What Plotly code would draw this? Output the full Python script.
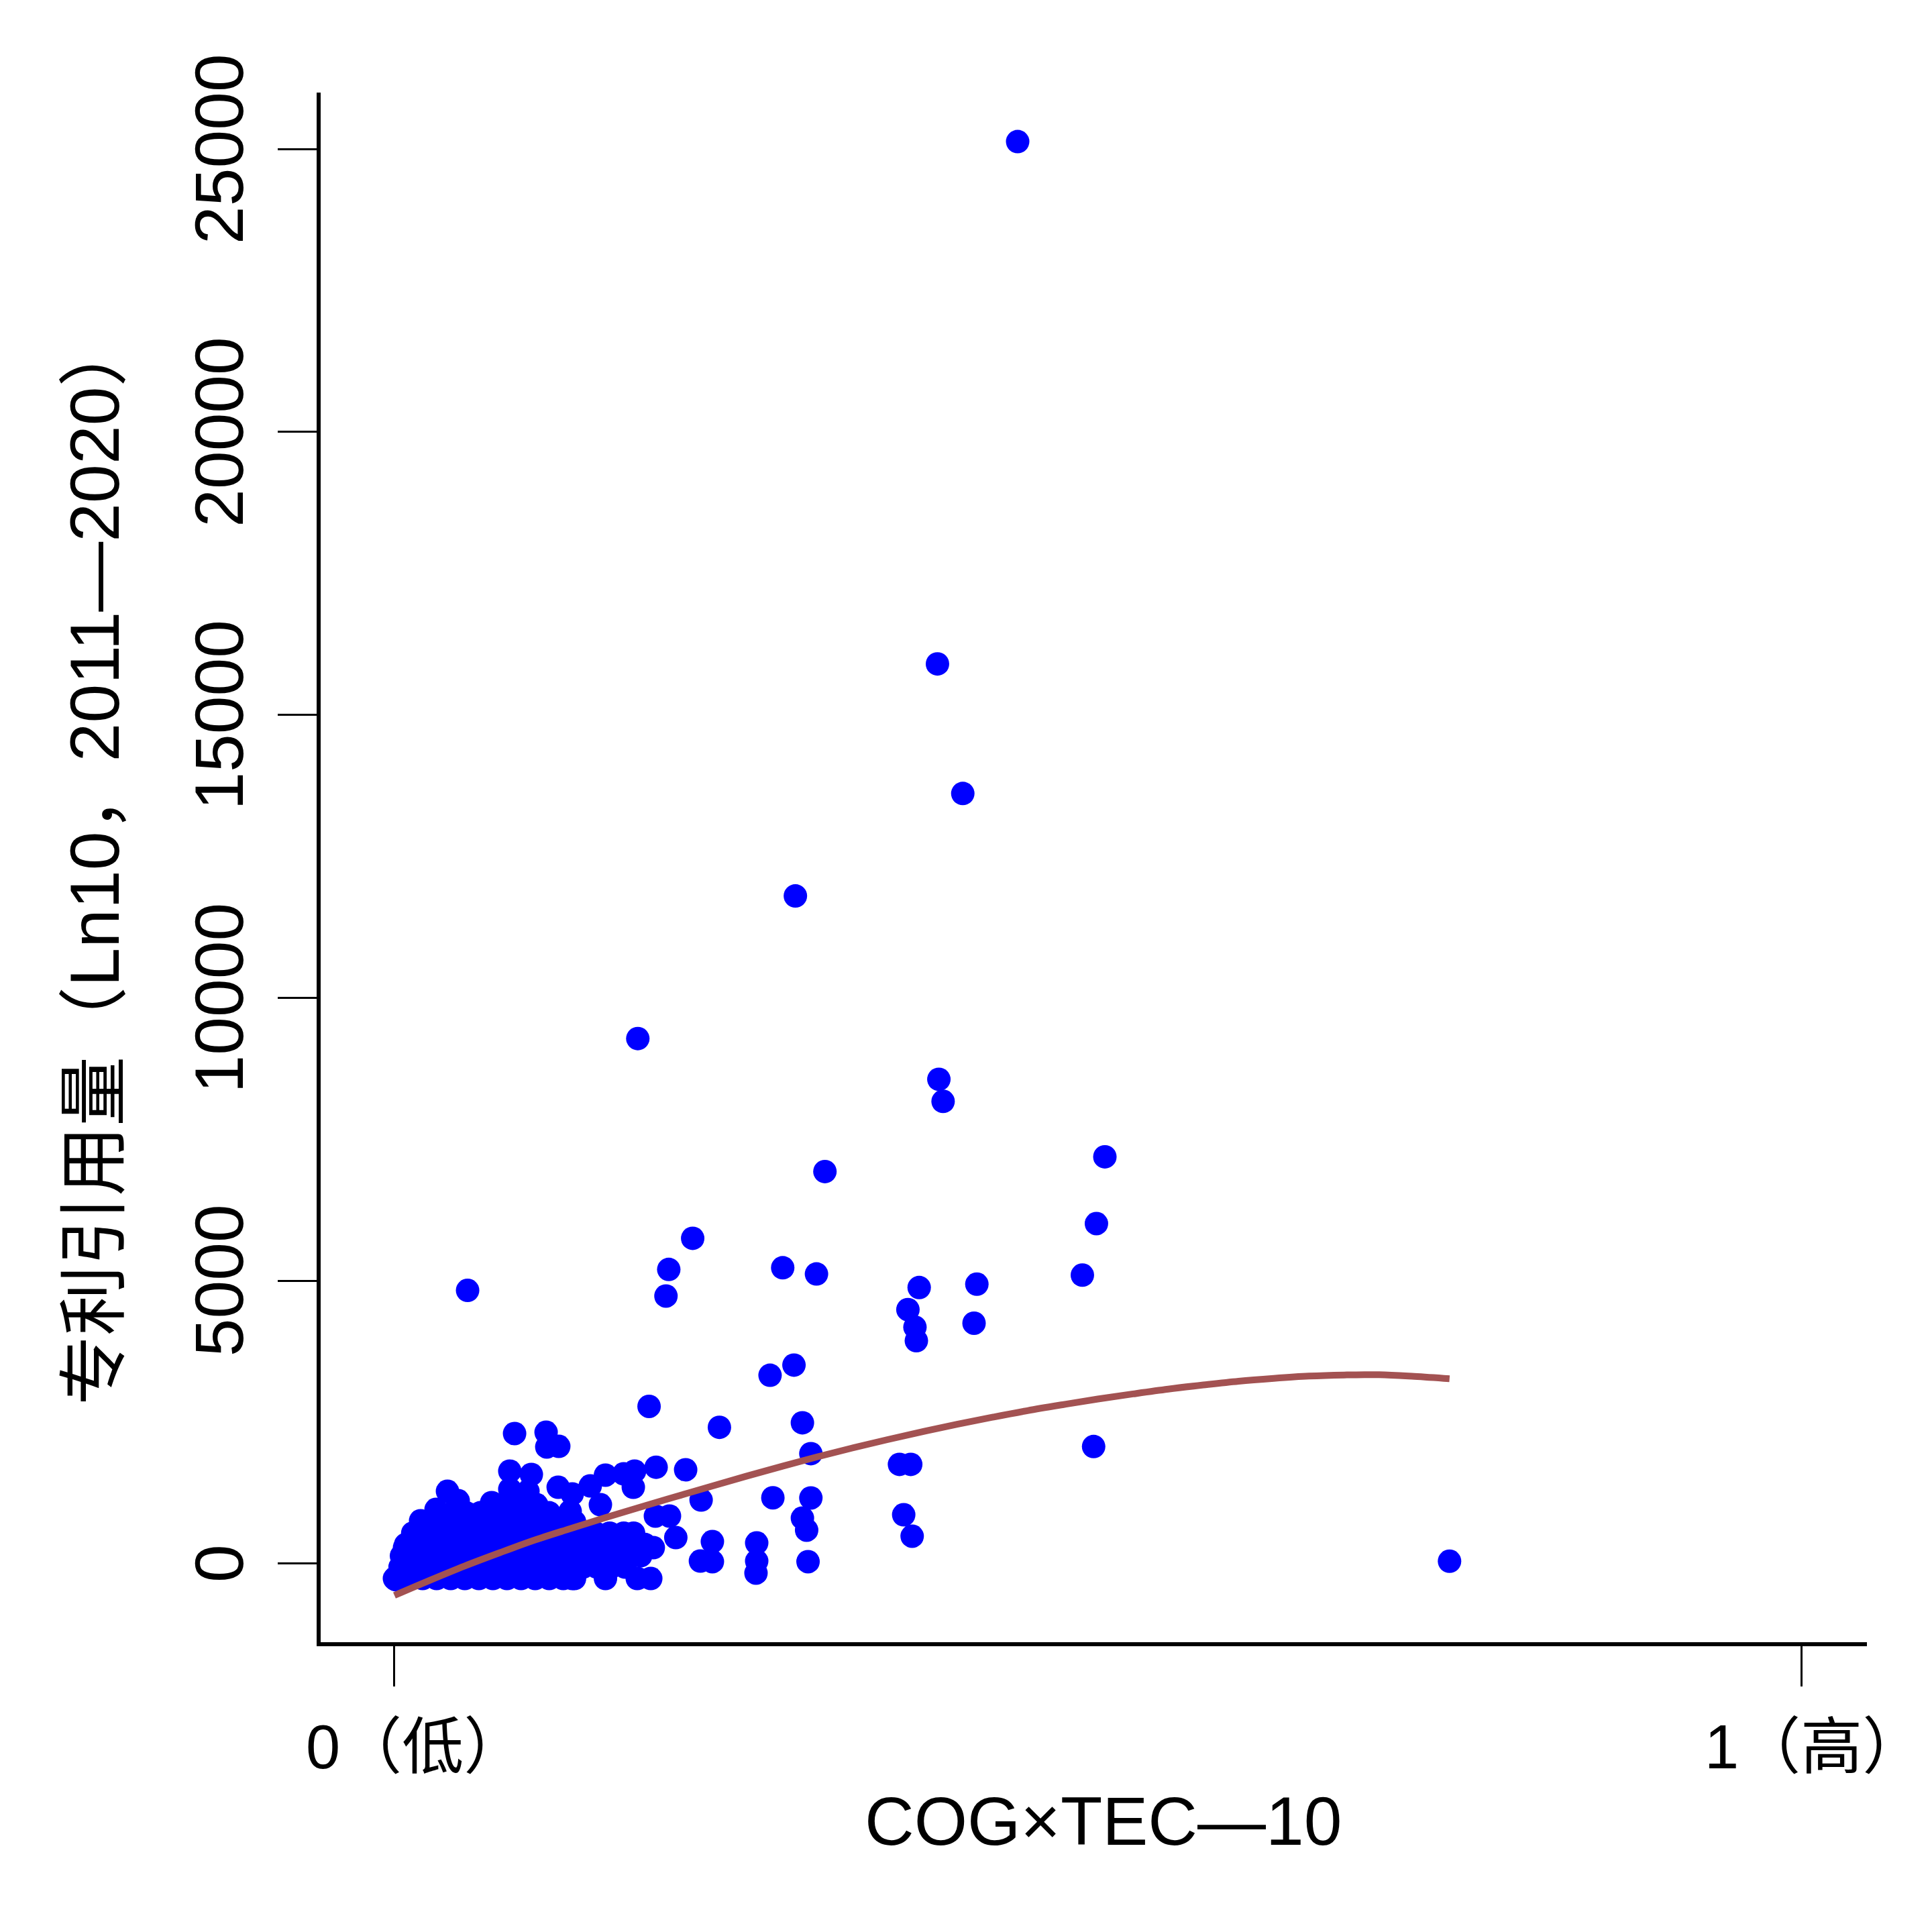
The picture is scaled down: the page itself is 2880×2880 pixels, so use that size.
import plotly.graph_objects as go

# ---------------- data ----------------
# isolated points (COG×TEC—10, 专利引用量)
pts_x = [0.443, 0.386, 0.404, 0.285, 0.173, 0.387, 0.390, 0.505, 0.306, 0.499,
         0.212, 0.195, 0.276, 0.300, 0.052, 0.193, 0.373, 0.414, 0.489, 0.365,
         0.370, 0.371, 0.412, 0.284, 0.267, 0.181, 0.231, 0.290, 0.497, 0.296,
         0.359, 0.367, 0.207, 0.186, 0.269, 0.296, 0.218, 0.362, 0.290, 0.293,
         0.368, 0.750, 0.2575, 0.226, 0.2575, 0.257, 0.226, 0.2175, 0.294, 0.200,
         0.184, 0.1855, 0.1955, 0.1698, 0.1392, 0.1264, 0.1464, 0.150, 0.163, 0.1707,
         0.0854, 0.1078, 0.1083, 0.1168, 0.0820, 0.0973, 0.1164, 0.0820, 0.0949, 0.0377,
         0.0453, 0.0691, 0.1011, 0.0296, 0.0835, 0.1249, 0.0186, 0.0072, 0.001, 0.0167,
         0.150, 0.1726, 0.1822, 0.1264]
pts_y = [25130, 15900, 13610, 11800, 9280, 8560, 8170, 7190, 6930, 6010,
         5750, 5200, 5230, 5120, 4830, 4730, 4880, 4940, 5100, 4490,
         4180, 3940, 4250, 3510, 3330, 2780, 2410, 2490, 2070, 1945,
         1755, 1755, 1660, 1705, 1165, 1162, 1126, 865, 806, 593,
         486, 44, 367, 391, 47, -166, 36, 47, 36, 462,
         284, 842, 842, 1351, 1375, 1233, 1043, 1565, 1588, 1636,
         2300, 2323, 2063, 2074, 1636, 1577, 1351, 1316, 1280, 1280,
         1114, 1079, 1043, 960, 1043, 925, 759, 284, -284, 522,
         -261, -261, -261, -261]

# dense, overlapping cluster near the origin, read as rows
blob_row_y = [-261, -60, 140, 340, 540, 740, 900]
blob_row_x = [
    [0.000, 0.010, 0.020, 0.030, 0.040, 0.050, 0.060, 0.070, 0.080, 0.090, 0.100, 0.110, 0.120, 0.128],
    [0.004, 0.014, 0.024, 0.034, 0.044, 0.054, 0.064, 0.074, 0.084, 0.094, 0.104, 0.114, 0.124, 0.134, 0.144, 0.154, 0.164],
    [0.005, 0.015, 0.025, 0.035, 0.045, 0.055, 0.065, 0.075, 0.085, 0.095, 0.105, 0.115, 0.125, 0.135, 0.145, 0.155, 0.165, 0.175],
    [0.008, 0.018, 0.028, 0.038, 0.048, 0.058, 0.068, 0.078, 0.088, 0.098, 0.108, 0.118, 0.128, 0.138, 0.148, 0.158, 0.168, 0.178],
    [0.013, 0.023, 0.033, 0.043, 0.053, 0.063, 0.073, 0.083, 0.093, 0.103, 0.113, 0.123, 0.133, 0.143, 0.153, 0.163, 0.170],
    [0.019, 0.029, 0.039, 0.049, 0.059, 0.069, 0.079, 0.089, 0.099, 0.109, 0.119, 0.128],
    [0.031, 0.041, 0.051, 0.061, 0.071, 0.081, 0.091, 0.101, 0.110],
]

# fitted curve
fit_x = [0.0, 0.025, 0.05, 0.075, 0.10, 0.125, 0.15, 0.175, 0.20, 0.225, 0.25, 0.275,
         0.30, 0.325, 0.35, 0.375, 0.40, 0.425, 0.45, 0.475, 0.50, 0.525, 0.55, 0.575,
         0.60, 0.625, 0.65, 0.675, 0.70, 0.725, 0.75]
fit_y = [-560, -295, -40, 195, 420, 620, 815, 1002, 1185, 1367, 1545, 1718,
         1885, 2042, 2190, 2330, 2465, 2588, 2705, 2810, 2910, 3000, 3085, 3158,
         3225, 3275, 3315, 3335, 3340, 3310, 3268]

x_ticks = [0, 1]
x_tick_text = ["0（低）", "1（高）"]
y_ticks = [0, 5000, 10000, 15000, 20000, 25000]
y_tick_text = ["0", "5000", "10000", "15000", "20000", "25000"]

x_title = "COG×TEC—10"
y_title = "专利引用量（Ln10，2011—2020）"

# ---------------- build ----------------
all_x = list(pts_x)
all_y = list(pts_y)
for yy, xs in zip(blob_row_y, blob_row_x):
    for xx in xs:
        all_x.append(xx)
        all_y.append(yy)

FONT = "Liberation Sans, Arial, Noto Sans CJK SC, sans-serif"

fig = go.Figure()
fig.add_trace(go.Scatter(
    x=all_x, y=all_y, mode="markers",
    marker=dict(color="#0000FF", size=35, line=dict(width=0)),
    showlegend=False, hoverinfo="skip",
))
fig.add_trace(go.Scatter(
    x=fit_x, y=fit_y, mode="lines",
    line=dict(color="#A35252", width=10, shape="spline", smoothing=1.0),
    showlegend=False, hoverinfo="skip",
))

L, R, T, B = 478, 97, 138, 432
W = H = 2880

annotations = []
# y tick labels (rotated, reading bottom to top)
for v, t in zip(y_ticks, y_tick_text):
    annotations.append(dict(
        text=t, xref="paper", yref="y", x=0, y=v, xshift=-151,
        xanchor="center", yanchor="middle", textangle=-90, showarrow=False,
        font=dict(size=102, family=FONT, color="black")))
# x tick labels
x_label_shift = [32, 19]
for v, t, s in zip(x_ticks, x_tick_text, x_label_shift):
    annotations.append(dict(
        text=t, xref="x", yref="paper", x=v, y=0, xshift=s, yshift=-156,
        xanchor="center", yanchor="middle", showarrow=False,
        font=dict(size=92, family=FONT, color="black")))
# axis titles
annotations.append(dict(
    text=x_title, xref="paper", yref="paper", x=0.506, y=-0.1156,
    xanchor="center", yanchor="middle", showarrow=False,
    font=dict(size=102, family=FONT, color="black")))
annotations.append(dict(
    text=y_title, xref="paper", yref="paper", x=-0.1462, y=0.504,
    xanchor="center", yanchor="middle", textangle=-90, showarrow=False,
    font=dict(size=104, family=FONT, color="black")))

fig.update_layout(
    width=W, height=H,
    margin=dict(l=L, r=R, t=T, b=B, pad=0),
    paper_bgcolor="white", plot_bgcolor="white",
    font=dict(family=FONT, color="black"),
    xaxis=dict(
        range=[-0.05245, 1.0467], showgrid=False, zeroline=False,
        showline=True, linecolor="black", linewidth=6,
        ticks="outside", ticklen=60, tickwidth=3, tickcolor="black",
        tickvals=x_ticks, showticklabels=False,
    ),
    yaxis=dict(
        range=[-1387, 25996], showgrid=False, zeroline=False,
        showline=True, linecolor="black", linewidth=6,
        ticks="outside", ticklen=58, tickwidth=3, tickcolor="black",
        tickvals=y_ticks, showticklabels=False,
    ),
    annotations=annotations,
)

fig.write_html("out.html")
